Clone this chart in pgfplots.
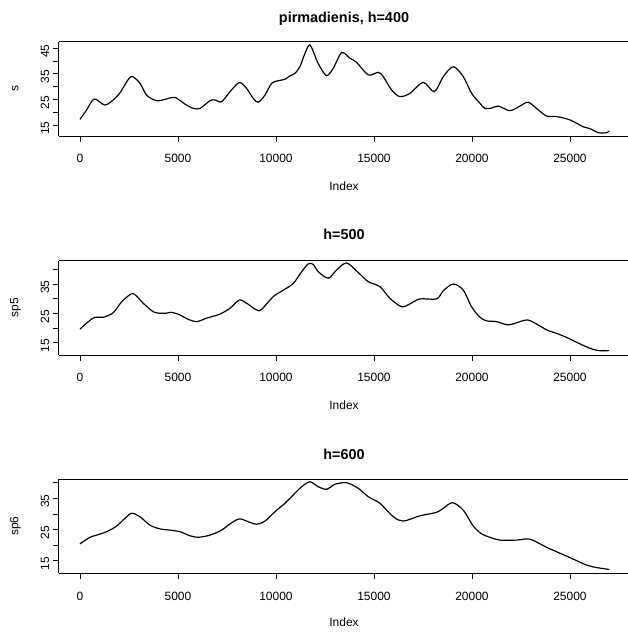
\documentclass[border=0pt]{standalone}
\usepackage{fontspec}
\setmainfont{Liberation Sans}
\usepackage{pgfplots}
\pgfplotsset{compat=1.18}
\pgfplotsset{rpanel/.style={
  scale only axis, width=571.5pt, height=94.3pt,
  xmin=-1080, xmax=28080, xtick={0,5000,...,25000},
  scaled x ticks=false, scaled y ticks=false,
  axis x line*=bottom, axis y line*=left, clip=false,
  tick align=outside, xtick pos=bottom, ytick pos=left,
  major tick length=6pt,
  /pgf/number format/assume math mode=true,
  /pgf/number format/1000 sep={},
  tick label style={font=\fontsize{12}{12}\selectfont},
  xticklabel style={yshift=-9pt},
  yticklabel style={rotate=90, anchor=south, xshift=-3pt},
  axis line style={line width=0.8pt},
  every tick/.style={black, line width=0.8pt},
  after end axis/.code={\draw[line width=0.8pt] (rel axis cs:0,1) -- (rel axis cs:1,1);},
}, rline/.style={black, line width=1.2pt, smooth, tension=0.5, mark=none}}
\begin{document}
\begin{tikzpicture}[x=1pt,y=1pt]
\useasboundingbox (0,0) rectangle (628,633);
\clip (0,0) rectangle (628,633);
% panel 1
\begin{axis}[rpanel, at={(58.8pt,497pt)}, anchor=south west,
  ymin=10.7, ymax=47.58, ytick={15,20,...,45}, yticklabels={15,,25,,35,,45}]
\addplot[rline] coordinates {(0,17.2) (340,20.9) (730,25.2) (1276,22.8) (1786,25.4) (2075,28.0) (2602,33.9) (3061,31.3) (3401,26.7) (3912,24.5) (4422,25.2) (4847,25.8) (5357,23.2) (5782,21.5) (6122,21.5) (6633,24.5) (6888,24.8) (7228,24.1) (7653,28.0) (8129,31.6) (8503,29.3) (8843,25.4) (9098,23.9) (9439,26.7) (9779,31.3) (10119,32.3) (10459,32.9) (10714,34.2) (10969,35.2) (11224,37.8) (11479,43.0) (11735,46.3) (12075,40.4) (12245,37.8) (12585,34.3) (12925,37.2) (13350,43.3) (13776,41.1) (14116,39.5) (14711,34.6) (15221,35.6) (15476,33.9) (15901,28.7) (16327,26.1) (16837,27.4) (17517,31.7) (18078,28.0) (18537,33.9) (19048,37.8) (19558,33.9) (19983,27.4) (20408,23.5) (20663,21.5) (21000,21.6) (21344,22.4) (21939,20.6) (22449,22.4) (22874,23.9) (23384,20.9) (23810,18.5) (24320,18.3) (25000,17.0) (25680,14.3) (26020,13.6) (26446,12.0) (26871,12.0) (27005,12.7)};
\end{axis}
% panel 2
\begin{axis}[rpanel, at={(58.8pt,278pt)}, anchor=south west,
  ymin=10.79, ymax=43.08, ytick={15,20,...,40}, yticklabels={15,,25,,35,}]
\addplot[rline] coordinates {(0,19.6) (425,22.2) (765,23.7) (1190,23.7) (1700,25.3) (2126,29.0) (2585,31.6) (2800,31.5) (3231,28.5) (3741,25.6) (4082,25.1) (4400,25.1) (4677,25.4) (5102,24.5) (5527,23.0) (5952,22.2) (6463,23.4) (7143,24.8) (7653,26.8) (8129,29.6) (8503,28.5) (9014,26.2) (9269,26.4) (9864,30.8) (10374,33.0) (10884,35.3) (11310,39.3) (11650,42.0) (11900,41.8) (12160,39.3) (12670,37.1) (13095,39.9) (13605,42.3) (14201,39.0) (14711,35.9) (15306,34.2) (15816,30.2) (16412,27.3) (16837,28.3) (17347,30.0) (18197,30.0) (18537,32.8) (19048,35.1) (19558,33.0) (19983,27.3) (20408,23.7) (20748,22.5) (21259,22.2) (21854,21.1) (22449,22.2) (22840,22.8) (23299,21.4) (23810,19.4) (24320,18.2) (24830,16.8) (25510,14.6) (26020,13.1) (26446,12.3) (27005,12.3)};
\end{axis}
% panel 3
\begin{axis}[rpanel, at={(58.8pt,59.7pt)}, anchor=south west,
  ymin=10.96, ymax=41.19, ytick={15,20,...,40}, yticklabels={15,,25,,35,}]
\addplot[rline] coordinates {(0,20.4) (510,22.5) (850,23.2) (1361,24.3) (1871,26.1) (2296,28.6) (2636,30.2) (3061,29.1) (3571,26.4) (4082,25.2) (4592,24.8) (5102,24.3) (5612,23.0) (6037,22.5) (6633,23.2) (7228,24.8) (7653,26.8) (8129,28.4) (8588,27.5) (9014,26.7) (9439,27.7) (10034,31.2) (10459,33.4) (10884,36.1) (11310,38.7) (11735,40.3) (12160,38.7) (12585,37.9) (13010,39.5) (13605,40.0) (14201,38.2) (14711,35.5) (15306,33.4) (15986,29.1) (16497,27.7) (17347,29.4) (18197,30.5) (18537,31.8) (19014,33.6) (19558,31.2) (20068,26.1) (20493,23.6) (20918,22.5) (21429,21.6) (22279,21.6) (22959,21.9) (23810,19.3) (24490,17.4) (25170,15.5) (25850,13.6) (26361,12.8) (27005,12.2)};
\end{axis}
% titles and labels
\begin{scope}[every node/.style={inner sep=0pt}]
\node[anchor=base, font=\fontsize{14.4}{14.4}\selectfont\bfseries] at (344,610.5) {pirmadienis, h=400};
\node[anchor=base, font=\fontsize{14.4}{14.4}\selectfont\bfseries] at (344,393) {h=500};
\node[anchor=base, font=\fontsize{14.4}{14.4}\selectfont\bfseries] at (344,173) {h=600};
\node[anchor=base, font=\fontsize{12}{12}\selectfont] at (344,442) {Index};
\node[anchor=base, font=\fontsize{12}{12}\selectfont] at (344,223.7) {Index};
\node[anchor=base, font=\fontsize{12}{12}\selectfont] at (344,6) {Index};
\node[anchor=base, rotate=90, font=\fontsize{12}{12}\selectfont] at (18.5,544.2) {s};
\node[anchor=base, rotate=90, font=\fontsize{12}{12}\selectfont] at (18.5,325.2) {sp5};
\node[anchor=base, rotate=90, font=\fontsize{12}{12}\selectfont] at (18.5,106.9) {sp6};
\end{scope}
\end{tikzpicture}
\end{document}
